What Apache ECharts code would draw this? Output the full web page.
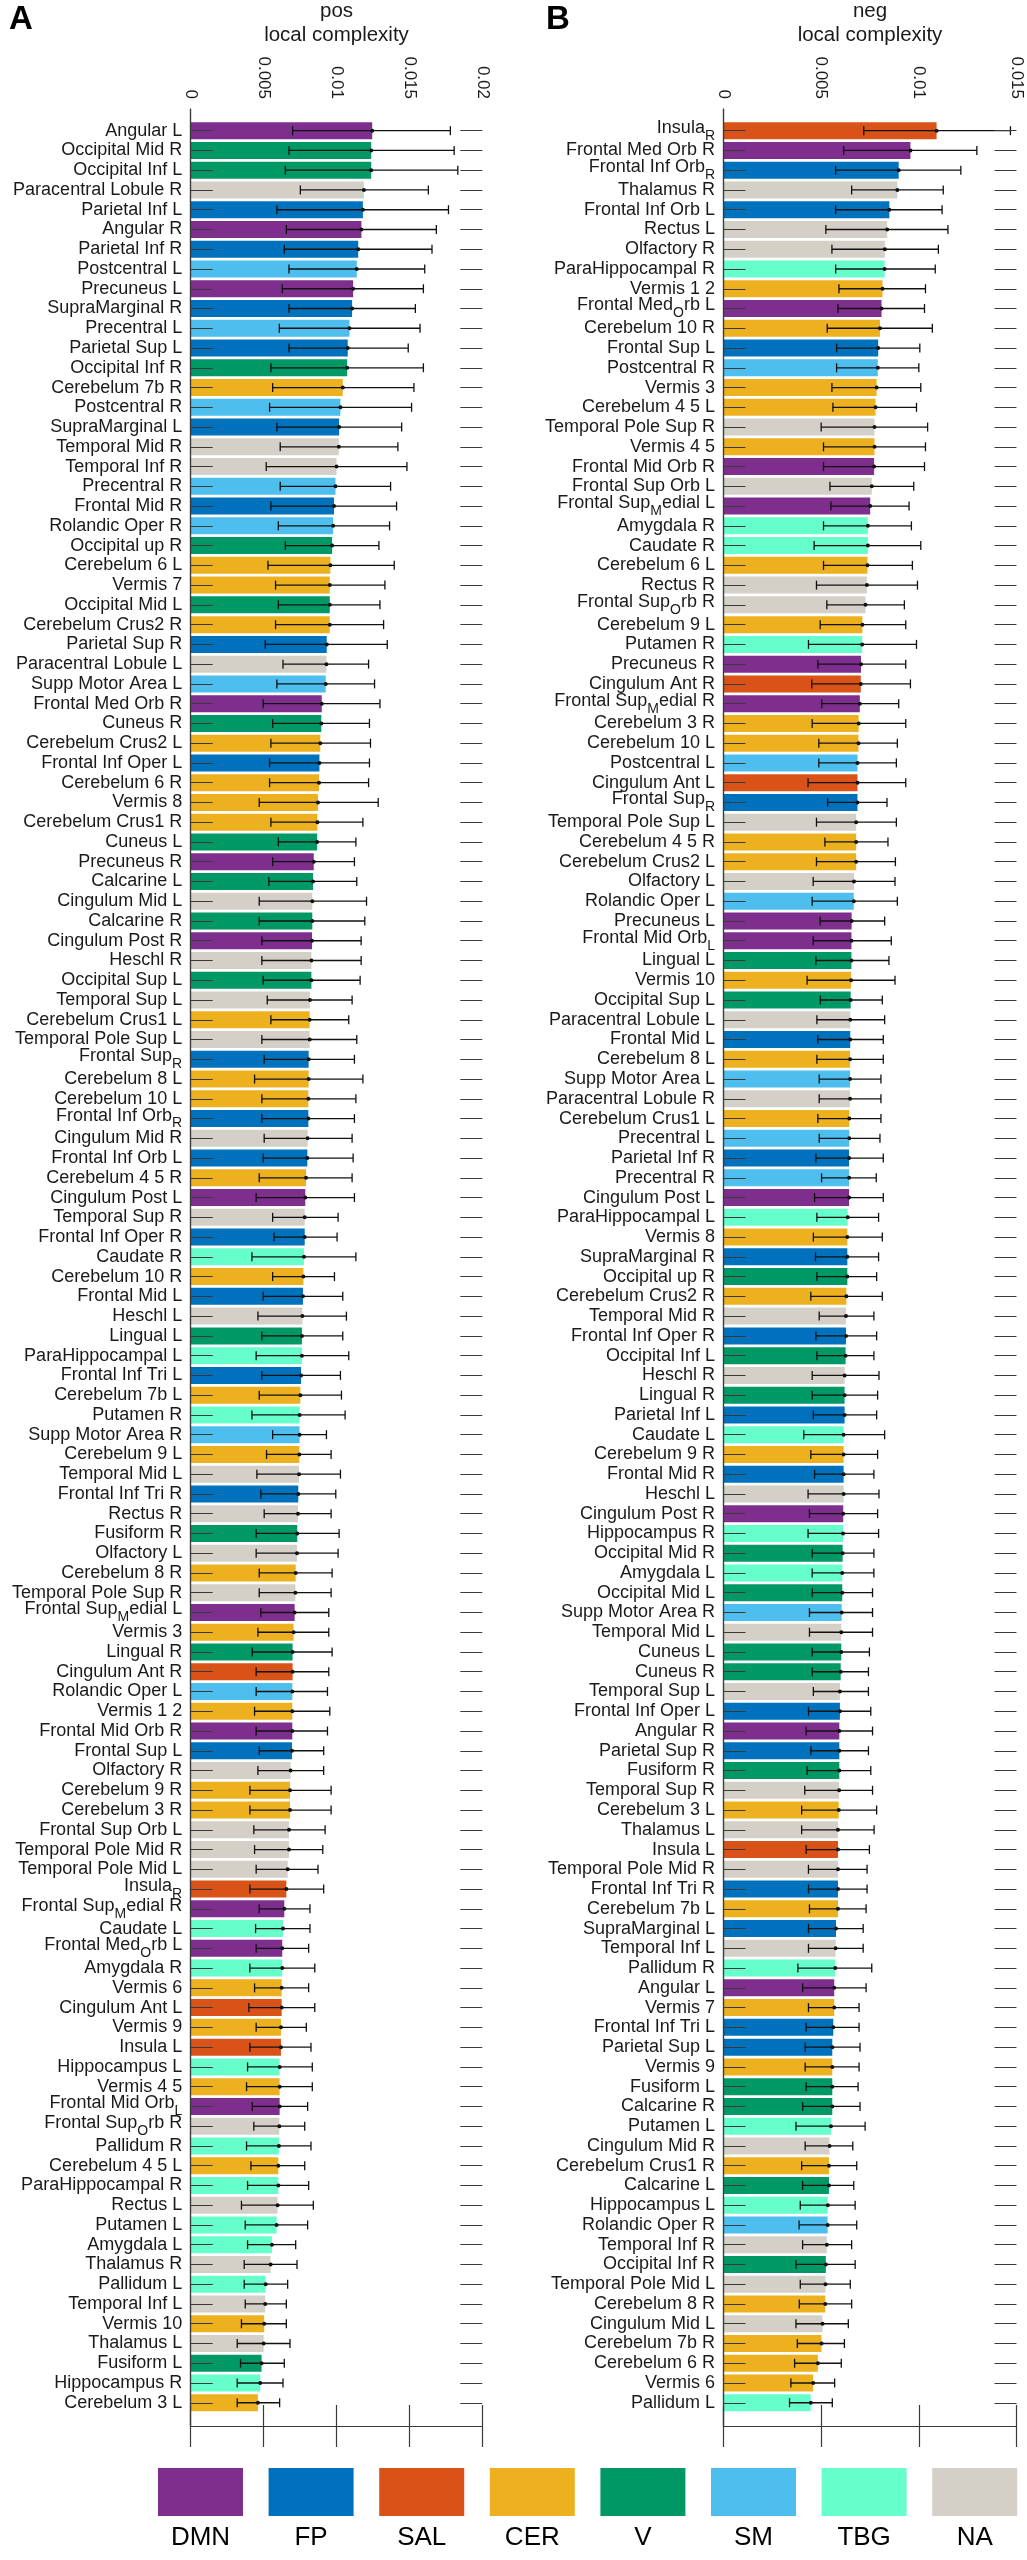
<!DOCTYPE html>
<html><head><meta charset="utf-8">
<script src="https://cdn.jsdelivr.net/npm/echarts@6/dist/echarts.min.js"></script>
<style>html,body{margin:0;padding:0;background:#fff}#c{width:1027px;height:2560px}</style>
</head><body><div id="c"></div>
<script>
// ---------------- DATA ----------------
const namesA = [
'Angular L','Occipital Mid R','Occipital Inf L','Paracentral Lobule R','Parietal Inf L','Angular R','Parietal Inf R','Postcentral L','Precuneus L','SupraMarginal R',
'Precentral L','Parietal Sup L','Occipital Inf R','Cerebelum 7b R','Postcentral R','SupraMarginal L','Temporal Mid R','Temporal Inf R','Precentral R','Frontal Mid R',
'Rolandic Oper R','Occipital up R','Cerebelum 6 L','Vermis 7','Occipital Mid L','Cerebelum Crus2 R','Parietal Sup R','Paracentral Lobule L','Supp Motor Area L','Frontal Med Orb R',
'Cuneus R','Cerebelum Crus2 L','Frontal Inf Oper L','Cerebelum 6 R','Vermis 8','Cerebelum Crus1 R','Cuneus L','Precuneus R','Calcarine L','Cingulum Mid L',
'Calcarine R','Cingulum Post R','Heschl R','Occipital Sup L','Temporal Sup L','Cerebelum Crus1 L','Temporal Pole Sup L','Frontal Sup_R','Cerebelum 8 L','Cerebelum 10 L',
'Frontal Inf Orb_R','Cingulum Mid R','Frontal Inf Orb L','Cerebelum 4 5 R','Cingulum Post L','Temporal Sup R','Frontal Inf Oper R','Caudate R','Cerebelum 10 R','Frontal Mid L',
'Heschl L','Lingual L','ParaHippocampal L','Frontal Inf Tri L','Cerebelum 7b L','Putamen R','Supp Motor Area R','Cerebelum 9 L','Temporal Mid L','Frontal Inf Tri R',
'Rectus R','Fusiform R','Olfactory L','Cerebelum 8 R','Temporal Pole Sup R','Frontal Sup_Medial L','Vermis 3','Lingual R','Cingulum Ant R','Rolandic Oper L',
'Vermis 1 2','Frontal Mid Orb R','Frontal Sup L','Olfactory R','Cerebelum 9 R','Cerebelum 3 R','Frontal Sup Orb L','Temporal Pole Mid R','Temporal Pole Mid L','Insula_R',
'Frontal Sup_Medial R','Caudate L','Frontal Med_Orb L','Amygdala R','Vermis 6','Cingulum Ant L','Vermis 9','Insula L','Hippocampus L','Vermis 4 5',
'Frontal Mid Orb_L','Frontal Sup_Orb R','Pallidum R','Cerebelum 4 5 L','ParaHippocampal R','Rectus L','Putamen L','Amygdala L','Thalamus R','Pallidum L',
'Temporal Inf L','Vermis 10','Thalamus L','Fusiform L','Hippocampus R','Cerebelum 3 L'];
const netA = [
'DMN','V','V','NA','FP','DMN','FP','SM','DMN','FP',
'SM','FP','V','CER','SM','FP','NA','NA','SM','FP',
'SM','V','CER','CER','V','CER','FP','NA','SM','DMN',
'V','CER','FP','CER','CER','CER','V','DMN','V','NA',
'V','DMN','NA','V','NA','CER','NA','FP','CER','CER',
'FP','NA','FP','CER','DMN','NA','FP','TBG','CER','FP',
'NA','V','TBG','FP','CER','TBG','SM','CER','NA','FP',
'NA','V','NA','CER','NA','DMN','CER','V','SAL','SM',
'CER','DMN','FP','NA','CER','CER','NA','NA','NA','SAL',
'DMN','TBG','DMN','TBG','CER','SAL','CER','SAL','TBG','CER',
'DMN','NA','TBG','CER','TBG','NA','TBG','TBG','NA','TBG',
'NA','CER','NA','V','TBG','CER'];
const meanA = [
12.45e-3,12.38e-3,12.38e-3,11.88e-3,11.81e-3,11.71e-3,11.49e-3,11.39e-3,11.14e-3,11.07e-3,
10.89e-3,10.77e-3,10.73e-3,10.43e-3,10.27e-3,10.18e-3,10.16e-3,10.00e-3,9.93e-3,9.83e-3,
9.77e-3,9.70e-3,9.58e-3,9.54e-3,9.54e-3,9.54e-3,9.33e-3,9.31e-3,9.26e-3,8.99e-3,
8.96e-3,8.89e-3,8.83e-3,8.80e-3,8.73e-3,8.69e-3,8.67e-3,8.44e-3,8.39e-3,8.34e-3,
8.34e-3,8.32e-3,8.28e-3,8.28e-3,8.18e-3,8.16e-3,8.16e-3,8.09e-3,8.09e-3,8.07e-3,
8.07e-3,8.02e-3,8.00e-3,7.91e-3,7.86e-3,7.82e-3,7.82e-3,7.77e-3,7.73e-3,7.70e-3,
7.66e-3,7.63e-3,7.63e-3,7.57e-3,7.52e-3,7.47e-3,7.47e-3,7.45e-3,7.43e-3,7.38e-3,
7.36e-3,7.31e-3,7.29e-3,7.20e-3,7.18e-3,7.13e-3,7.06e-3,6.99e-3,6.99e-3,6.97e-3,
6.97e-3,6.97e-3,6.95e-3,6.85e-3,6.81e-3,6.81e-3,6.74e-3,6.74e-3,6.65e-3,6.56e-3,
6.42e-3,6.33e-3,6.28e-3,6.28e-3,6.24e-3,6.24e-3,6.19e-3,6.19e-3,6.10e-3,6.10e-3,
6.10e-3,6.08e-3,6.05e-3,6.01e-3,6.01e-3,5.96e-3,5.89e-3,5.57e-3,5.48e-3,5.14e-3,
5.11e-3,5.04e-3,5.00e-3,4.86e-3,4.77e-3,4.61e-3];
const lowA = [
6.99e-3,6.74e-3,6.49e-3,7.52e-3,5.91e-3,6.56e-3,6.42e-3,6.74e-3,6.28e-3,6.74e-3,
6.08e-3,6.74e-3,5.50e-3,5.62e-3,5.41e-3,5.91e-3,6.14e-3,5.18e-3,6.14e-3,5.50e-3,
6.01e-3,6.49e-3,5.30e-3,5.82e-3,6.01e-3,5.82e-3,5.11e-3,6.33e-3,5.91e-3,4.97e-3,
5.62e-3,5.50e-3,5.41e-3,5.41e-3,4.70e-3,5.50e-3,6.01e-3,5.62e-3,5.36e-3,4.70e-3,
4.70e-3,4.88e-3,4.88e-3,4.97e-3,5.25e-3,5.50e-3,4.88e-3,5.04e-3,4.38e-3,4.88e-3,
4.88e-3,5.04e-3,4.97e-3,4.70e-3,4.49e-3,5.62e-3,5.71e-3,4.20e-3,5.62e-3,4.97e-3,
4.61e-3,4.88e-3,4.49e-3,4.88e-3,4.70e-3,4.20e-3,5.62e-3,5.20e-3,4.54e-3,4.81e-3,
5.04e-3,4.49e-3,4.49e-3,4.70e-3,4.70e-3,4.81e-3,4.61e-3,4.22e-3,4.49e-3,4.49e-3,
4.38e-3,4.49e-3,4.70e-3,4.61e-3,4.06e-3,4.06e-3,4.33e-3,4.38e-3,4.49e-3,4.06e-3,
4.70e-3,4.45e-3,4.49e-3,4.06e-3,4.38e-3,3.99e-3,4.49e-3,4.06e-3,3.90e-3,3.83e-3,
4.22e-3,4.33e-3,3.83e-3,4.13e-3,3.90e-3,3.48e-3,3.74e-3,3.90e-3,3.67e-3,3.67e-3,
3.74e-3,3.48e-3,3.19e-3,3.42e-3,3.19e-3,3.19e-3];
const highA = [
17.81e-3,18.07e-3,18.32e-3,16.30e-3,17.68e-3,16.85e-3,16.55e-3,16.05e-3,15.96e-3,15.41e-3,
15.73e-3,14.92e-3,15.96e-3,15.31e-3,15.15e-3,14.47e-3,14.21e-3,14.83e-3,13.71e-3,14.12e-3,
13.64e-3,12.91e-3,13.96e-3,13.32e-3,12.98e-3,13.23e-3,13.48e-3,12.20e-3,12.61e-3,12.98e-3,
12.26e-3,12.33e-3,12.26e-3,12.20e-3,12.86e-3,11.81e-3,11.33e-3,11.23e-3,11.39e-3,12.06e-3,
11.94e-3,11.69e-3,11.69e-3,11.62e-3,11.07e-3,10.84e-3,11.39e-3,11.23e-3,11.81e-3,11.33e-3,
11.23e-3,11.07e-3,11.14e-3,11.07e-3,11.23e-3,10.11e-3,10.04e-3,11.33e-3,9.86e-3,10.43e-3,
10.68e-3,10.43e-3,10.84e-3,10.27e-3,10.34e-3,10.59e-3,9.31e-3,9.63e-3,10.27e-3,9.95e-3,
9.63e-3,10.18e-3,10.11e-3,9.70e-3,9.63e-3,9.47e-3,9.47e-3,9.70e-3,9.47e-3,9.38e-3,
9.54e-3,9.38e-3,9.12e-3,9.12e-3,9.63e-3,9.63e-3,9.22e-3,9.06e-3,8.73e-3,9.12e-3,
8.18e-3,8.18e-3,8.09e-3,8.51e-3,8.09e-3,8.51e-3,7.93e-3,8.25e-3,8.34e-3,8.34e-3,
8.02e-3,7.82e-3,8.25e-3,7.82e-3,8.09e-3,8.41e-3,8.02e-3,7.20e-3,7.29e-3,6.65e-3,
6.56e-3,6.56e-3,6.81e-3,6.42e-3,6.33e-3,6.10e-3];

const namesB = [
'Insula_R','Frontal Med Orb R','Frontal Inf Orb_R','Thalamus R','Frontal Inf Orb L','Rectus L','Olfactory R','ParaHippocampal R','Vermis 1 2','Frontal Med_Orb L',
'Cerebelum 10 R','Frontal Sup L','Postcentral R','Vermis 3','Cerebelum 4 5 L','Temporal Pole Sup R','Vermis 4 5','Frontal Mid Orb R','Frontal Sup Orb L','Frontal Sup_Medial L',
'Amygdala R','Caudate R','Cerebelum 6 L','Rectus R','Frontal Sup_Orb R','Cerebelum 9 L','Putamen R','Precuneus R','Cingulum Ant R','Frontal Sup_Medial R',
'Cerebelum 3 R','Cerebelum 10 L','Postcentral L','Cingulum Ant L','Frontal Sup_R','Temporal Pole Sup L','Cerebelum 4 5 R','Cerebelum Crus2 L','Olfactory L','Rolandic Oper L',
'Precuneus L','Frontal Mid Orb_L','Lingual L','Vermis 10','Occipital Sup L','Paracentral Lobule L','Frontal Mid L','Cerebelum 8 L','Supp Motor Area L','Paracentral Lobule R',
'Cerebelum Crus1 L','Precentral L','Parietal Inf R','Precentral R','Cingulum Post L','ParaHippocampal L','Vermis 8','SupraMarginal R','Occipital up R','Cerebelum Crus2 R',
'Temporal Mid R','Frontal Inf Oper R','Occipital Inf L','Heschl R','Lingual R','Parietal Inf L','Caudate L','Cerebelum 9 R','Frontal Mid R','Heschl L',
'Cingulum Post R','Hippocampus R','Occipital Mid R','Amygdala L','Occipital Mid L','Supp Motor Area R','Temporal Mid L','Cuneus L','Cuneus R','Temporal Sup L',
'Frontal Inf Oper L','Angular R','Parietal Sup R','Fusiform R','Temporal Sup R','Cerebelum 3 L','Thalamus L','Insula L','Temporal Pole Mid R','Frontal Inf Tri R',
'Cerebelum 7b L','SupraMarginal L','Temporal Inf L','Pallidum R','Angular L','Vermis 7','Frontal Inf Tri L','Parietal Sup L','Vermis 9','Fusiform L',
'Calcarine R','Putamen L','Cingulum Mid R','Cerebelum Crus1 R','Calcarine L','Hippocampus L','Rolandic Oper R','Temporal Inf R','Occipital Inf R','Temporal Pole Mid L',
'Cerebelum 8 R','Cingulum Mid L','Cerebelum 7b R','Cerebelum 6 R','Vermis 6','Pallidum L'];
const netB = [
'SAL','DMN','FP','NA','FP','NA','NA','TBG','CER','DMN',
'CER','FP','SM','CER','CER','NA','CER','DMN','NA','DMN',
'TBG','TBG','CER','NA','NA','CER','TBG','DMN','SAL','DMN',
'CER','CER','SM','SAL','FP','NA','CER','CER','NA','SM',
'DMN','DMN','V','CER','V','NA','FP','CER','SM','NA',
'CER','SM','FP','SM','DMN','TBG','CER','FP','V','CER',
'NA','FP','V','NA','V','FP','TBG','CER','FP','NA',
'DMN','TBG','V','TBG','V','SM','NA','V','V','NA',
'FP','DMN','FP','V','NA','CER','NA','SAL','NA','FP',
'CER','FP','NA','TBG','DMN','CER','FP','FP','CER','V',
'V','TBG','NA','CER','V','TBG','SM','NA','V','NA',
'CER','NA','CER','CER','CER','TBG'];
const meanB = [
10.91e-3,9.57e-3,8.97e-3,8.90e-3,8.49e-3,8.38e-3,8.26e-3,8.25e-3,8.14e-3,8.09e-3,
8.01e-3,7.92e-3,7.90e-3,7.84e-3,7.78e-3,7.73e-3,7.73e-3,7.71e-3,7.59e-3,7.51e-3,
7.39e-3,7.39e-3,7.37e-3,7.34e-3,7.27e-3,7.11e-3,7.10e-3,7.04e-3,7.03e-3,6.98e-3,
6.92e-3,6.91e-3,6.86e-3,6.86e-3,6.86e-3,6.79e-3,6.79e-3,6.79e-3,6.68e-3,6.67e-3,
6.56e-3,6.55e-3,6.55e-3,6.53e-3,6.51e-3,6.49e-3,6.49e-3,6.48e-3,6.48e-3,6.48e-3,
6.44e-3,6.44e-3,6.43e-3,6.43e-3,6.43e-3,6.36e-3,6.34e-3,6.34e-3,6.34e-3,6.29e-3,
6.27e-3,6.27e-3,6.25e-3,6.20e-3,6.20e-3,6.20e-3,6.15e-3,6.15e-3,6.15e-3,6.15e-3,
6.13e-3,6.12e-3,6.10e-3,6.08e-3,6.08e-3,6.05e-3,6.03e-3,6.03e-3,6.00e-3,5.96e-3,
5.96e-3,5.93e-3,5.93e-3,5.93e-3,5.92e-3,5.90e-3,5.86e-3,5.86e-3,5.86e-3,5.86e-3,
5.86e-3,5.76e-3,5.74e-3,5.72e-3,5.67e-3,5.67e-3,5.62e-3,5.57e-3,5.57e-3,5.57e-3,
5.57e-3,5.50e-3,5.43e-3,5.40e-3,5.40e-3,5.34e-3,5.33e-3,5.29e-3,5.24e-3,5.22e-3,
5.21e-3,5.07e-3,5.02e-3,4.83e-3,4.59e-3,4.47e-3];
const lowB = [
7.18e-3,6.15e-3,5.74e-3,6.56e-3,5.74e-3,5.24e-3,5.55e-3,5.74e-3,5.91e-3,5.86e-3,
5.31e-3,5.79e-3,5.79e-3,5.55e-3,5.60e-3,5.00e-3,5.12e-3,5.12e-3,5.45e-3,5.50e-3,
5.12e-3,4.64e-3,5.12e-3,4.76e-3,5.29e-3,4.95e-3,4.35e-3,4.83e-3,4.52e-3,5.03e-3,
4.54e-3,4.88e-3,4.88e-3,4.33e-3,5.33e-3,4.76e-3,5.19e-3,4.76e-3,4.59e-3,4.54e-3,
4.95e-3,4.59e-3,4.73e-3,4.28e-3,4.95e-3,4.78e-3,4.83e-3,4.78e-3,4.90e-3,4.90e-3,
4.83e-3,4.90e-3,4.73e-3,5.02e-3,4.66e-3,4.78e-3,4.60e-3,4.71e-3,4.78e-3,4.47e-3,
4.90e-3,4.73e-3,4.78e-3,4.54e-3,4.54e-3,4.60e-3,4.11e-3,4.47e-3,4.66e-3,4.33e-3,
4.40e-3,4.33e-3,4.54e-3,4.54e-3,4.54e-3,4.40e-3,4.40e-3,4.54e-3,4.54e-3,4.60e-3,
4.35e-3,4.23e-3,4.47e-3,4.28e-3,4.16e-3,4.00e-3,4.00e-3,4.23e-3,4.35e-3,4.35e-3,
4.40e-3,4.35e-3,4.35e-3,3.81e-3,4.05e-3,4.35e-3,4.23e-3,4.18e-3,4.18e-3,4.23e-3,
4.05e-3,3.71e-3,4.18e-3,4.00e-3,4.05e-3,3.93e-3,3.87e-3,4.05e-3,3.71e-3,3.93e-3,
3.88e-3,3.71e-3,3.78e-3,3.64e-3,3.45e-3,3.38e-3];
const highB = [
14.69e-3,12.97e-3,12.15e-3,11.25e-3,11.19e-3,11.49e-3,11.00e-3,10.84e-3,10.34e-3,10.29e-3,
10.69e-3,10.05e-3,10.00e-3,10.10e-3,9.88e-3,10.45e-3,10.34e-3,10.29e-3,9.74e-3,9.50e-3,
9.62e-3,10.10e-3,9.67e-3,9.93e-3,9.26e-3,9.33e-3,9.88e-3,9.33e-3,9.57e-3,8.97e-3,
9.33e-3,8.90e-3,8.85e-3,9.33e-3,8.37e-3,8.85e-3,8.42e-3,8.80e-3,8.78e-3,8.90e-3,
8.25e-3,8.59e-3,8.47e-3,8.78e-3,8.13e-3,8.25e-3,8.18e-3,8.18e-3,8.06e-3,8.06e-3,
8.06e-3,8.01e-3,8.18e-3,7.82e-3,8.18e-3,7.94e-3,8.13e-3,7.94e-3,7.84e-3,8.13e-3,
7.70e-3,7.84e-3,7.70e-3,7.96e-3,7.89e-3,7.84e-3,8.25e-3,7.89e-3,7.70e-3,7.96e-3,
7.89e-3,7.94e-3,7.70e-3,7.70e-3,7.63e-3,7.63e-3,7.63e-3,7.47e-3,7.42e-3,7.42e-3,
7.54e-3,7.63e-3,7.42e-3,7.54e-3,7.63e-3,7.84e-3,7.71e-3,7.47e-3,7.35e-3,7.35e-3,
7.30e-3,7.15e-3,7.15e-3,7.59e-3,7.30e-3,6.94e-3,6.94e-3,6.99e-3,6.94e-3,6.89e-3,
6.99e-3,7.25e-3,6.62e-3,6.82e-3,6.67e-3,6.74e-3,6.82e-3,6.56e-3,6.74e-3,6.49e-3,
6.56e-3,6.39e-3,6.19e-3,6.03e-3,5.69e-3,5.57e-3];

const xTicksA = [0, 0.005, 0.01, 0.015, 0.02];
const xTicksB = [0, 0.005, 0.01, 0.015];
const networks = ['DMN','FP','SAL','CER','V','SM','TBG','NA'];
const netColors = {DMN:'#7E2F8E', FP:'#0072BD', SAL:'#D95319', CER:'#EDB120', V:'#009966', SM:'#4DBEEE', TBG:'#66FFCC', NA:'#D4D0C8'};

// ---------------- LAYOUT ----------------
const FONT = "'Liberation Sans', Arial, Helvetica, sans-serif";
const BOX_TOP = 109, BOX_H = 2317;
const PITCH = 19.757, FIRST_C = 130.7;
const BARS_TOP = FIRST_C - PITCH / 2;
const TXT = '#1a1a1a', AX = '#3a3a3a';
const LBL = 18, SUB = 14;

const panels = [
  {names:namesA, net:netA, mean:meanA, low:lowA, high:highA, ticks:xTicksA, left:190.7, right:482.3, title:'pos', letter:'A', letterX:9},
  {names:namesB, net:netB, mean:meanB, low:lowB, high:highB, ticks:xTicksB, left:723.5, right:1016.5, title:'neg', letter:'B', letterX:546}
];

function richName(name) {
  const i = name.indexOf('_');
  if (i < 0) return name;
  const pre = name.slice(0, i), sub = name[i + 1], post = name.slice(i + 2);
  return '{n|' + pre + '}{s|' + sub + '}' + (post ? '{n|' + post + '}' : '');
}

const grid = [], xAxis = [], yAxis = [], series = [], graphic = [];

panels.forEach((p, i) => {
  const w = p.right - p.left;
  const n = p.names.length;
  const xmax = p.ticks[p.ticks.length - 1];
  const step = p.ticks[1] - p.ticks[0];
  grid.push({left: p.left, width: w, top: BOX_TOP, height: BOX_H, containLabel: false, outerBoundsMode: 'none'});
  grid.push({left: p.left, width: w, top: BARS_TOP, height: PITCH * n, containLabel: false, outerBoundsMode: 'none'});
  const gBox = 2 * i, gBar = 2 * i + 1;
  const tickFmt = v => { const t = p.ticks.find(t => Math.abs(t - v) < 1e-9); return t === undefined ? '' : String(t); };
  xAxis.push({gridIndex: gBox, type: 'value', position: 'top', min: 0, max: xmax, interval: step, z: 10,
    axisLine: {show: true, lineStyle: {color: AX, width: 1.2}},
    axisTick: {show: true, inside: true, length: 21, lineStyle: {color: AX, width: 1.2}},
    splitLine: {show: false},
    axisLabel: {show: true, rotate: -90, margin: 10, fontSize: 17, fontFamily: FONT, color: TXT, formatter: tickFmt, showMinLabel: true, showMaxLabel: true}});
  xAxis.push({gridIndex: gBox, type: 'value', position: 'bottom', min: 0, max: xmax, interval: step, z: 10,
    axisLine: {show: true, lineStyle: {color: AX, width: 1.2}},
    axisTick: {show: true, inside: true, length: 21, lineStyle: {color: AX, width: 1.2}},
    splitLine: {show: false}, axisLabel: {show: false}});
  xAxis.push({gridIndex: gBar, type: 'value', min: 0, max: xmax, show: false, splitLine: {show: false}});
  yAxis.push({gridIndex: gBox, type: 'value', position: 'left', min: 0, max: 1, z: 10,
    axisLine: {show: true, lineStyle: {color: AX, width: 1.2}}, axisTick: {show: false}, axisLabel: {show: false}, splitLine: {show: false}});
  yAxis.push({gridIndex: gBox, type: 'value', position: 'right', min: 0, max: 1, z: 10,
    axisLine: {show: true, lineStyle: {color: AX, width: 1.2}}, axisTick: {show: false}, axisLabel: {show: false}, splitLine: {show: false}});
  yAxis.push({gridIndex: gBar, type: 'category', data: p.names, inverse: true, position: 'left', z: 10,
    axisLine: {show: false},
    axisTick: {show: true, inside: true, length: 22, alignWithLabel: true, interval: 0, lineStyle: {color: AX, width: 1}},
    axisLabel: {show: true, interval: 0, margin: 8.5, fontSize: LBL, fontFamily: FONT, color: TXT,
      formatter: richName,
      rich: {
        n: {fontSize: LBL, fontFamily: FONT, color: TXT, verticalAlign: 'top'},
        s: {fontSize: SUB, fontFamily: FONT, color: TXT, lineHeight: 24, verticalAlign: 'bottom'}
      }}});
  yAxis.push({gridIndex: gBar, type: 'category', data: p.names, inverse: true, position: 'right', z: 10,
    axisLine: {show: false},
    axisTick: {show: true, inside: true, length: 22, alignWithLabel: true, interval: 0, lineStyle: {color: AX, width: 1}},
    axisLabel: {show: false}});
  const xi = 3 * i + 2, yi = 4 * i + 2;
  series.push({type: 'bar', xAxisIndex: xi, yAxisIndex: yi, barWidth: 17, z: 2,
    data: p.mean.map((v, k) => ({value: v, itemStyle: {color: netColors[p.net[k]]}})),
    animation: false});
  series.push({type: 'custom', xAxisIndex: xi, yAxisIndex: yi, z: 4, animation: false,
    encode: {y: 0, x: [1, 2, 3]},
    data: p.names.map((nm, k) => [k, p.low[k], p.high[k], p.mean[k]]),
    renderItem: (params, api) => {
      const idx = api.value(0);
      const lo = api.coord([api.value(1), idx]);
      const hi = api.coord([api.value(2), idx]);
      const m = api.coord([api.value(3), idx]);
      const h = 4.5, st = {stroke: '#111', lineWidth: 1.3};
      return {type: 'group', children: [
        {type: 'line', shape: {x1: lo[0], y1: lo[1], x2: hi[0], y2: hi[1]}, style: st},
        {type: 'line', shape: {x1: lo[0], y1: lo[1] - h, x2: lo[0], y2: lo[1] + h}, style: st},
        {type: 'line', shape: {x1: hi[0], y1: hi[1] - h, x2: hi[0], y2: hi[1] + h}, style: st},
        {type: 'circle', shape: {cx: m[0], cy: m[1], r: 2}, style: {fill: '#111'}}
      ]};
    }});
  const cx = (p.left + p.right) / 2;
  graphic.push({type: 'text', x: cx, y: 11, style: {text: p.title, textAlign: 'center', textVerticalAlign: 'middle', verticalAlign: 'middle', font: '20.5px ' + FONT, fill: TXT}});
  graphic.push({type: 'text', x: cx, y: 35, style: {text: 'local complexity', textAlign: 'center', textVerticalAlign: 'middle', verticalAlign: 'middle', font: '20.5px ' + FONT, fill: TXT}});
  graphic.push({type: 'text', x: p.letterX, y: 20, style: {text: p.letter, textAlign: 'left', textVerticalAlign: 'middle', verticalAlign: 'middle', font: 'bold 33px ' + FONT, fill: '#000'}});
});

// legend (decoration)
const LEG_X0 = 158, LEG_STEP = 110.6, LEG_W = 85, LEG_Y = 2468, LEG_H = 48;
networks.forEach((nw, k) => {
  const x = LEG_X0 + k * LEG_STEP;
  graphic.push({type: 'rect', shape: {x: x, y: LEG_Y, width: LEG_W, height: LEG_H}, style: {fill: netColors[nw]}});
  graphic.push({type: 'text', x: x + LEG_W / 2, y: LEG_Y + 70, style: {text: nw, textAlign: 'center', textVerticalAlign: 'middle', verticalAlign: 'middle', font: '26px ' + FONT, fill: '#000'}});
});

const chart = echarts.init(document.getElementById('c'), null, {renderer: 'canvas'});
chart.setOption({
  backgroundColor: '#fff',
  animation: false,
  grid, xAxis, yAxis, series, graphic
});
</script>
</body></html>
